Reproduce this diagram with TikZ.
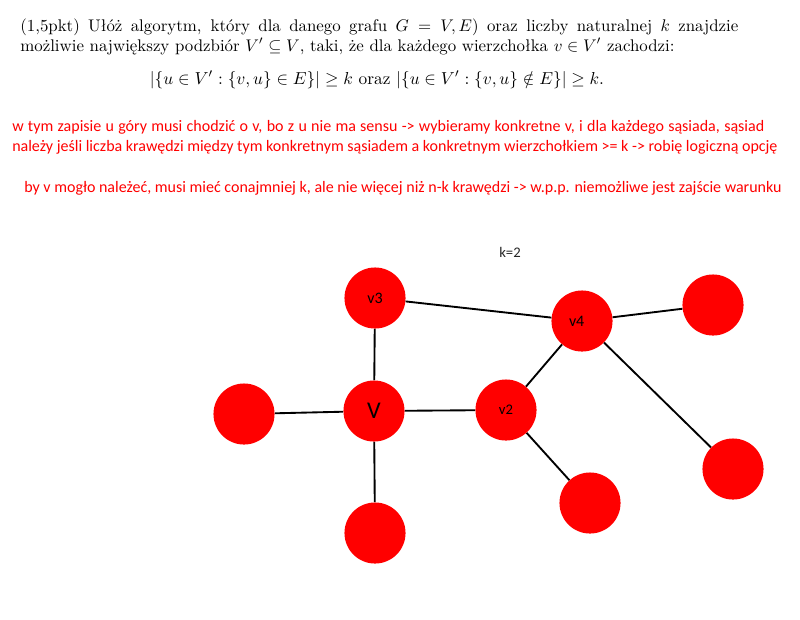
\documentclass[tikz,border=0pt]{standalone}
\usepackage{fontspec}
\newfontfamily\calibri{Carlito}
\begin{document}
\begin{tikzpicture}[x=0.75pt,y=-0.75pt,
  vtx/.style={circle,fill=red,draw=none,minimum size=45.8pt,inner sep=0pt},
  lbl/.style={font=\calibri\fontsize{12}{14}\selectfont,text=black,inner sep=0pt},
  edge/.style={line width=1.4pt,black},
  note/.style={font=\calibri\fontsize{12}{14}\selectfont,text=red,inner sep=0pt,anchor=base west}]
\useasboundingbox (0,0) rectangle (800,619);
% problem statement
\node[anchor=north west,inner sep=0pt,scale=1.265,transform shape,text width=425.7pt,align=justify,
  font=\fontsize{10}{11.3}\selectfont] (stmt) at (20,19)
  {\hyphenpenalty=10000 (1,5pkt) Ułóż algorytm, który dla danego grafu $G=V,E)$ oraz liczby naturalnej $k$ znajdzie\linebreak
   możliwie największy podzbiór $V'\subseteq V$, taki, że dla każdego wierzchołka $v\in V'$ zachodzi:};
\node[inner sep=0pt,anchor=base,scale=1.3,transform shape,font=\fontsize{10}{12}\selectfont] (formula) at (377,84)
  {$\left|\{u\in V' : \{v,u\}\in E\}\right|\geq k$ oraz $\left|\{u\in V' : \{v,u\}\notin E\}\right|\geq k.$};
% notes
\node[note] (n1) at (12,131) {\hbox to 564pt{w tym zapisie u góry musi chodzić o v, bo z u nie ma sensu -> wybieramy konkretne v, i dla każdego sąsiada, sąsiad}};
\node[note] (n2) at (12,151) {należy jeśli liczba krawędzi między tym konkretnym sąsiadem a konkretnym wierzchołkiem >= k -> robię logiczną opcję};
\node[note] (n3) at (24,192) {by v mogło należeć, musi mieć conajmniej k, ale nie więcej niż n-k krawędzi -> w.p.p. niemożliwe jest zajście warunku};
\node[font=\calibri\fontsize{11}{13}\selectfont,text=black!85,inner sep=0pt] (k) at (510,252) {k=2};
% vertices
\node[vtx,label={[lbl]center:v3}] (v3) at (375,298) {};
\node[vtx,label={[lbl,xshift=-4pt]center:v4}] (v4) at (582,321) {};
\node[vtx] (tr) at (713,305) {};
\node[vtx,label={[lbl,font=\calibri\fontsize{18}{20}\selectfont]center:V}] (v) at (374,411) {};
\node[vtx] (l) at (244,414) {};
\node[vtx,label={[lbl,font=\calibri\fontsize{11}{13}\selectfont]center:v2}] (v2) at (506,410) {};
\node[vtx] (b) at (375,533) {};
\node[vtx] (br) at (590,503) {};
\node[vtx] (rb) at (733,469) {};
% edges
\draw[edge] (l) -- (v);
\draw[edge] (v) -- (v2);
\draw[edge] (v) -- (v3);
\draw[edge] (v) -- (b);
\draw[edge] (v3) -- (v4);
\draw[edge] (v4) -- (tr);
\draw[edge] (v4) -- (v2);
\draw[edge] (v4) -- (rb);
\draw[edge] (v2) -- (br);
\end{tikzpicture}
\end{document}
